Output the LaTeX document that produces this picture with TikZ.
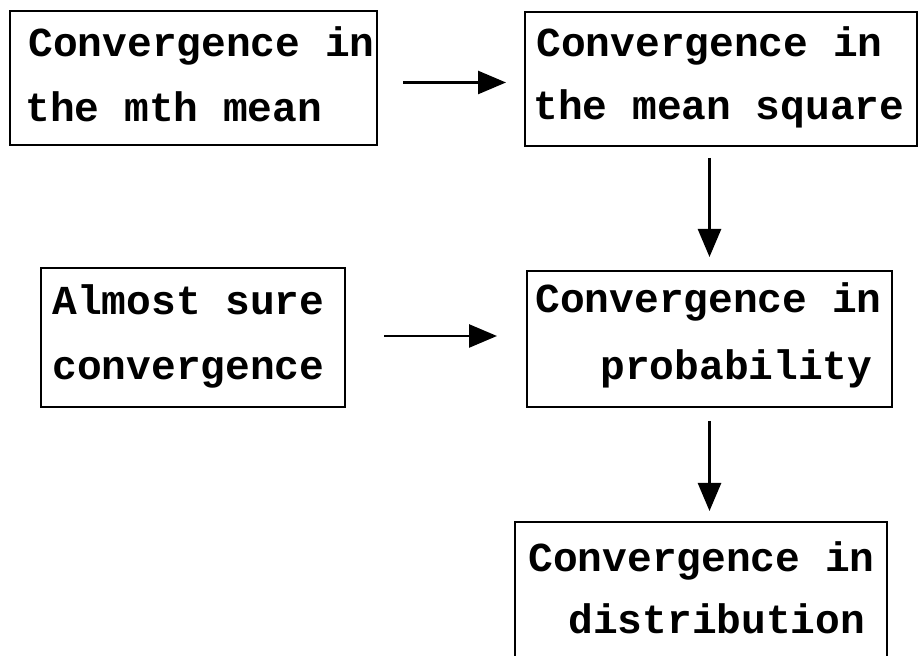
\documentclass[tikz,border=0pt]{standalone}
\usepackage{fontspec}
\setmonofont{Liberation Mono}
\usetikzlibrary{arrows.meta}
\begin{document}
\begin{tikzpicture}[x=0.5pt,y=-0.5pt,
  box/.style={draw=black,line width=1pt,rectangle,inner sep=0pt},
  txt/.style={anchor=base west,inner sep=0pt,font=\ttfamily\bfseries\fontsize{20.6pt}{24pt}\selectfont},
  arr/.style={line width=1.3pt,-{Triangle[length=14pt,width=11.5pt]}}]
\clip (0,0) rectangle (920,656);
\fill[white] (0,0) rectangle (920,656);
% boxes
\node[box,minimum width=183.5pt,minimum height=67pt] (b1) at (193.5,78.5) {};
\node[box,minimum width=196pt,minimum height=67pt] (b2) at (721,79) {};
\node[box,minimum width=152pt,minimum height=69.5pt] (b3) at (193,337.5) {};
\node[box,minimum width=182.5pt,minimum height=68pt] (b4) at (709.5,339) {};
\node[box,minimum width=186pt,minimum height=73pt] (b5) at (701,595) {};
% texts
\node[txt] (t1a) at (28,57) {Convergence in};
\node[txt] (t1b) at (25,122) {the mth mean};
\node[txt] (t2a) at (536,57) {Convergence in};
\node[txt] (t2b) at (533,120) {the mean square};
\node[txt] (t3a) at (52,315) {Almost sure};
\node[txt] (t3b) at (52,380) {convergence};
\node[txt] (t4a) at (535,313) {Convergence in};
\node[txt] (t4b) at (600,380) {probability};
\node[txt] (t5a) at (528,572) {Convergence in};
\node[txt] (t5b) at (568,633) {distribution};
% arrows
\draw[arr] ([xshift=12.5pt,yshift=-2pt]b1.east) -- ([xshift=-9pt,yshift=-2pt]b1.east -| b2.west);
\draw[arr] ([yshift=-5.5pt]b4.north |- b2.south) -- ([yshift=6.5pt]b4.north);
\draw[arr] ([xshift=19pt,yshift=0.75pt]b3.east) -- ([xshift=-14.5pt,yshift=0.75pt]b3.east -| b4.west);
\draw[arr] ([yshift=-6.5pt]b4.south) -- ([yshift=5pt]b4.south |- b5.north);
\end{tikzpicture}
\end{document}
